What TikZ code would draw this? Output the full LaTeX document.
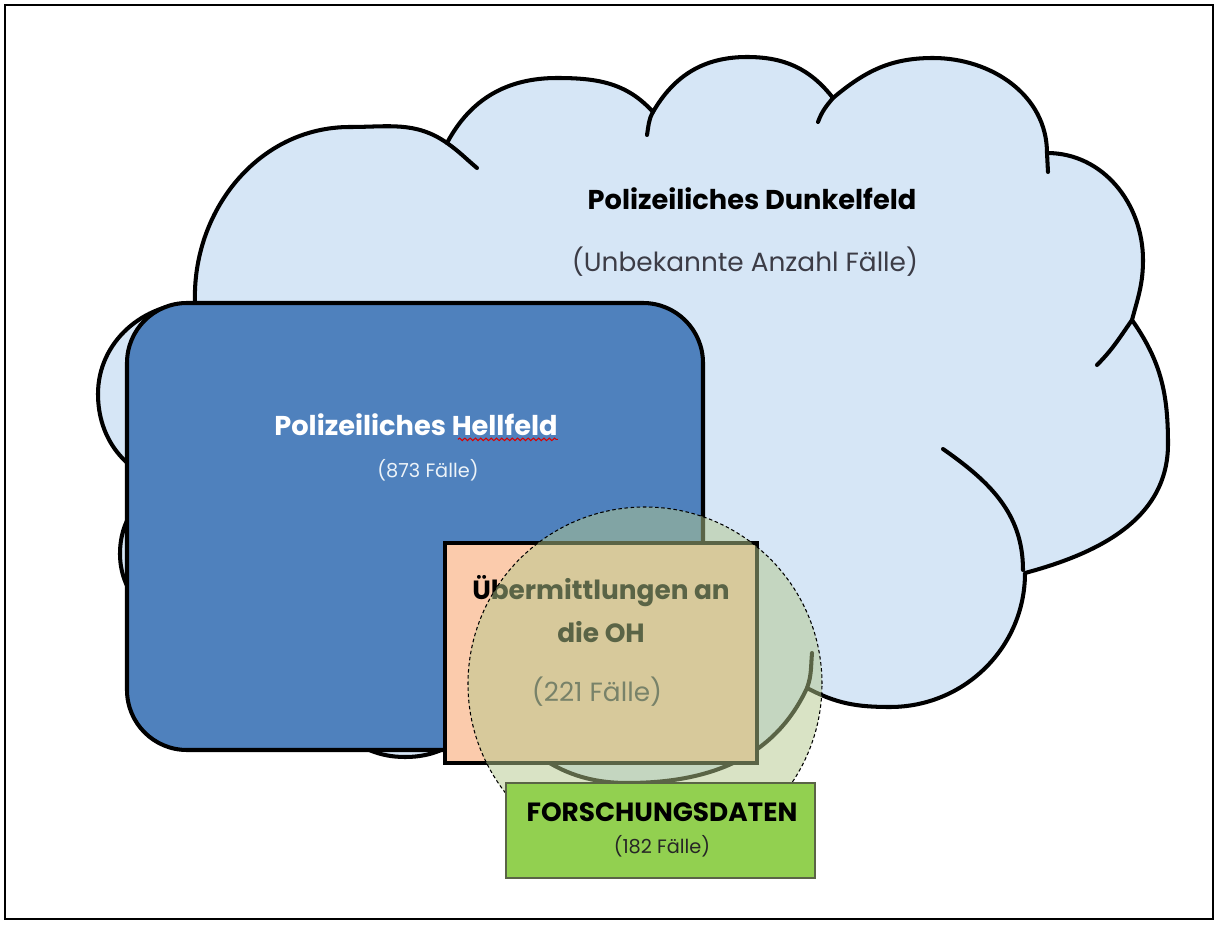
\documentclass[tikz,border=0pt]{standalone}
\usepackage{fontspec}
\setmainfont{Poppins}
\usetikzlibrary{decorations.pathmorphing}
\definecolor{cloudBlue}{RGB}{214,230,246}
\definecolor{hellBlue}{RGB}{79,129,189}
\definecolor{ohPeach}{RGB}{251,203,172}
\definecolor{circGreen}{RGB}{180,200,140}
\definecolor{forschGreen}{RGB}{146,208,80}
\definecolor{forschLine}{RGB}{90,100,70}
\definecolor{txtGray}{RGB}{60,60,70}

\begin{document}
\begin{tikzpicture}[x=0.02cm, y=0.02cm,
  outline/.style={draw=black, line width=2.3pt, line join=round, line cap=round},
  title/.style={font=\bfseries\fontsize{15.5}{24}\selectfont, inner sep=0pt, align=center},
  count/.style={font=\fontsize{15}{18}\selectfont, inner sep=0pt, text=txtGray}
]
  \useasboundingbox (0,0) rectangle (1218,924);
  \draw[line width=0.8pt] (5,5) rectangle (1213,919);

  \path[outline, fill=cloudBlue] (195,621)
    to[out=92,in=180] (350,797) to[out=0,in=145] (447,781)
    to[out=62,in=180] (557,846) to[out=0,in=132] (653,812)
    to[out=60,in=180] (747,867) to[out=0,in=128] (833,826)
    to[out=40,in=180] (933,866) to[out=0,in=90] (1047,771)
    to[out=0,in=90] (1143,664) to[out=-90,in=75] (1132,604)
    to[out=-55,in=90] (1168,480) to[out=-90,in=15] (1025,351)
    to[out=-90,in=0] (890,217) to[out=180,in=-28] (807,236)
    to[out=-115,in=0] (627,141) to[out=180,in=-50] (490,215)
    to[out=-130,in=0] (405,167) to[out=180,in=-60] (300,250) -- (195,295)
    to[out=180,in=-90] (120,370) to[out=90,in=-160] (169,440)
    to[out=167,in=-90] (98,530) to[out=90,in=180] cycle;
  \draw[outline] (447,781) to[out=-35,in=140] (477,756);
  \draw[outline] (653,812) to[out=-120,in=80] (647,789);
  \draw[outline] (833,826) to[out=-130,in=70] (818,802);
  \draw[outline] (1047,771) -- (1048,752);
  \draw[outline] (1132,604) to[out=-125,in=45] (1097,559);
  \draw[outline] (943,475) to[out=-35,in=90] (1023,354);
  \draw[outline] (812,271) to[out=-95,in=70] (807,236);

  \node[title] (dunkel) at (752,725) {Polizeiliches Dunkelfeld};
  \node[count] (dunkelN) at (745,662) {(Unbekannte Anzahl Fälle)};

  \draw[fill=hellBlue, line width=2.3pt, rounded corners=1.2cm] (127,174) rectangle (703,621);
  \node[title, text=white] (hell) at (416,499) {Polizeiliches Hellfeld};
  \node[count, text=white!90!hellBlue, font=\fontsize{11}{14}\selectfont] (hellN) at (428,454) {(873 Fälle)};
  \draw[red!85!black, line width=0.6pt, decorate, decoration={snake, amplitude=0.7pt, segment length=3pt}]
    (hell.south east) ++(-100,-3) -- ++(100,0);

  \draw[fill=ohPeach, line width=2.8pt] (445,161) rectangle (757,381);
  \node[title, font=\bfseries\fontsize{15}{24}\selectfont] (oh) at (601,315) {Übermittlungen an\\die OH};
  \node[count] (ohN) at (597,232) {(221 Fälle)};

  \fill[circGreen, opacity=0.5] (645,240) circle[radius=177];
  \draw[line width=0.6pt, dash pattern=on 2pt off 1.5pt] (645,240) circle[radius=177];

  \draw[fill=forschGreen, draw=forschLine, line width=0.9pt] (506,46) rectangle (815,141);
  \node[title, font=\bfseries\fontsize{15}{18}\selectfont] (forsch) at (662,112) {FORSCHUNGSDATEN};
  \node[count, text=black!85, font=\fontsize{11}{14}\selectfont] (forschN) at (662,78) {(182 Fälle)};
\end{tikzpicture}
\end{document}
